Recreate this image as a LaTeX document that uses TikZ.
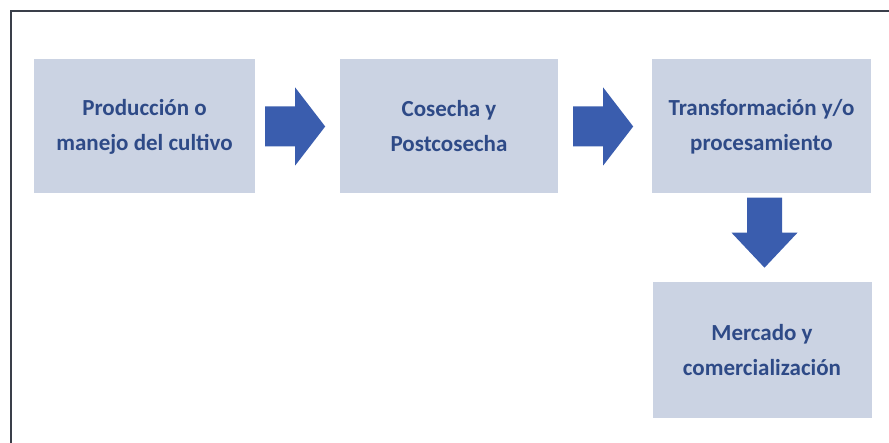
\documentclass[tikz,border=0pt]{standalone}
\usepackage{fontspec}
\setmainfont{Carlito}
\usetikzlibrary{calc}
\definecolor{boxfill}{HTML}{CBD3E3}
\definecolor{arrowc}{HTML}{3A5DAE}
\definecolor{txtc}{HTML}{2E4A87}
\definecolor{framec}{HTML}{3A3F4A}
\tikzset{
  stagebox/.style={fill=boxfill, draw=none, inner sep=0pt, align=center,
    text=txtc, font=\fontsize{23}{35}\selectfont\bfseries,
    minimum width=219pt, minimum height=134pt},
  blockarrow/.style={fill=arrowc, draw=none},
  framestyle/.style={draw=framec, line width=2pt}
}
\begin{document}
\begin{tikzpicture}[x=1pt,y=-1pt]
\useasboundingbox (0,0) rectangle (889,443);
\draw[framestyle] (889,11) -- (11,11) -- (11,443);
\node[stagebox, minimum width=221pt] (b1) at (144.5,126.5) {Producción o\\manejo del cultivo};
\node[stagebox, minimum width=218pt] (b2) at (449,126.5) {Cosecha y\\Postcosecha};
\node[stagebox] (b3) at (761.5,126.5) {Transformación y/o\\procesamiento};
\node[stagebox, minimum height=136pt] (b4) at (762,350) {Mercado y\\comercialización};
% horizontal block arrows
\fill[blockarrow] ($(b1.east)+(10,-20)$) -- ++(30,0) -- ++(0,-19) -- ++(30,39) -- ++(-30,39) -- ++(0,-19) -- ++(-30,0) -- cycle;
\fill[blockarrow] ($(b2.east)+(15,-20)$) -- ++(30,0) -- ++(0,-19) -- ++(30,39) -- ++(-30,39) -- ++(0,-19) -- ++(-30,0) -- cycle;
% downward block arrow
\fill[blockarrow] ($(b3.south)+(-14.5,4)$) -- ++(35,0) -- ++(0,35) -- ++(15.5,0) -- ++(-33,35) -- ++(-33,-35) -- ++(15.5,0) -- cycle;
\end{tikzpicture}
\end{document}
